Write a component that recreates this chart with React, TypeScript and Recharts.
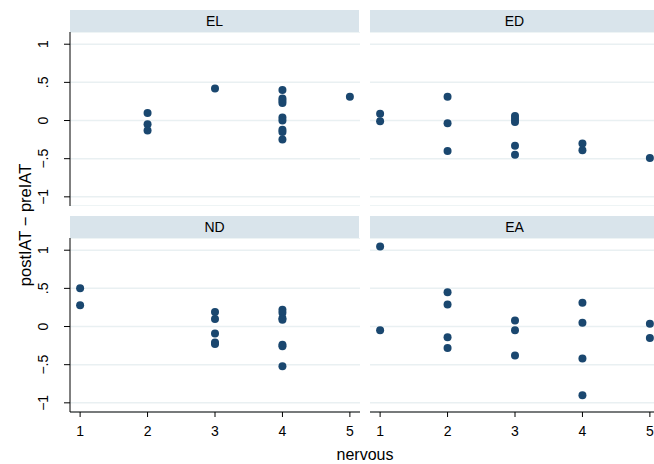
import { ScatterChart, Scatter, XAxis, YAxis, CartesianGrid } from 'recharts'

// nervous (x) and postIAT - preIAT (y), one pair of arrays per group
const elX = [2, 2, 2, 3, 4, 4, 4, 4, 4, 4, 4, 4, 4, 5]
const elY = [0.1, -0.05, -0.13, 0.42, 0.4, 0.29, 0.26, 0.23, 0.04, 0.0, -0.12, -0.15, -0.25, 0.31]

const edX = [1, 1, 2, 2, 2, 3, 3, 3, 3, 3, 4, 4, 5]
const edY = [0.09, -0.01, 0.31, -0.035, -0.4, 0.06, 0.02, -0.02, -0.33, -0.45, -0.3, -0.39, -0.49]

const ndX = [1, 1, 3, 3, 3, 3, 3, 4, 4, 4, 4, 4, 4, 4]
const ndY = [0.5, 0.28, 0.19, 0.1, -0.09, -0.21, -0.23, 0.22, 0.18, 0.11, 0.09, -0.24, -0.26, -0.52]

const eaX = [1, 1, 2, 2, 2, 2, 3, 3, 3, 4, 4, 4, 4, 5, 5]
const eaY = [1.05, -0.05, 0.45, 0.29, -0.14, -0.28, 0.08, -0.05, -0.38, 0.31, 0.05, -0.42, -0.9, 0.035, -0.15]

const xTicks = [1, 2, 3, 4, 5]
const yTicks = [-1, -0.5, 0, 0.5, 1]
const yLabels = ['\u22121', '\u2212.5', '0', '.5', '1']

const xDomain: [number, number] = [0.85, 5.15]
const yDomain: [number, number] = [-1.12, 1.16]

const NAVY = '#1a476f'
const FONT = '"Liberation Sans", Arial, sans-serif'

const toPoints = (xs: number[], ys: number[]) => xs.map((x, i) => ({ x, y: ys[i] }))

function YTick({ x, y, payload }: any) {
  const idx = yTicks.indexOf(payload.value)
  const bx = x - 14
  return (
    <text
      x={bx}
      y={y}
      transform={`rotate(-90, ${bx}, ${y})`}
      textAnchor="middle"
      fontSize={14}
      fontFamily={FONT}
      fill="#000"
    >
      {yLabels[idx]}
    </text>
  )
}

function Dot(p: any) {
  if (p.cx == null) return null
  return <circle cx={p.cx} cy={p.cy} r={4} fill={NAVY} />
}

type PanelProps = {
  title: string
  xs: number[]
  ys: number[]
  left: number
  top: number
  showY: boolean
  showX: boolean
}

function Panel({ title, xs, ys, left, top, showY, showX }: PanelProps) {
  const axisW = showY ? 70 : 0
  const plotW = 290
  const plotH = 174
  const axisH = showX ? 34 : 0
  return (
    <div style={{ position: 'absolute', left: left - axisW, top }}>
      <div
        style={{
          position: 'absolute',
          left: axisW,
          top: 0,
          width: 289,
          height: 22,
          background: '#d9e4eb',
          textAlign: 'center',
          lineHeight: '22px',
          fontSize: 14,
          fontFamily: FONT,
          color: '#000',
        }}
      >
        {title}
      </div>
      <div style={{ position: 'absolute', left: 0, top: 22 }}>
        <ScatterChart
          width={axisW + plotW}
          height={plotH + axisH}
          margin={{ top: 0, right: 0, bottom: 0, left: 0 }}
        >
          <CartesianGrid horizontal vertical={false} stroke="#e9f0f2" strokeWidth={1.5} />
          <XAxis
            type="number"
            dataKey="x"
            domain={xDomain}
            ticks={xTicks}
            allowDataOverflow
            hide={!showX}
            height={axisH}
            axisLine={{ stroke: '#000' }}
            tickLine={{ stroke: '#000' }}
            tickSize={5}
            tickMargin={9}
            tick={{ fontSize: 14, fill: '#000', fontFamily: FONT }}
          />
          <YAxis
            type="number"
            dataKey="y"
            domain={yDomain}
            ticks={yTicks}
            allowDataOverflow
            hide={!showY}
            width={axisW}
            axisLine={{ stroke: '#000' }}
            tickLine={{ stroke: '#000' }}
            tickSize={6}
            tick={<YTick />}
          />
          <Scatter data={toPoints(xs, ys)} shape={<Dot />} isAnimationActive={false} />
        </ScatterChart>
      </div>
    </div>
  )
}

export default function App() {
  return (
    <div
      style={{
        position: 'absolute',
        left: 0,
        top: 0,
        width: 654,
        height: 464,
        overflow: 'hidden',
        background: '#fff',
        fontFamily: FONT,
      }}
    >
      <Panel title="EL" xs={elX} ys={elY} left={70} top={10} showY showX={false} />
      <Panel title="ED" xs={edX} ys={edY} left={370} top={10} showY={false} showX={false} />
      <Panel title="ND" xs={ndX} ys={ndY} left={70} top={216} showY showX />
      <Panel title="EA" xs={eaX} ys={eaY} left={370} top={216} showY={false} showX />
      <div
        style={{
          position: 'absolute',
          left: 25,
          top: 225,
          transform: 'translate(-50%, -50%) rotate(-90deg)',
          whiteSpace: 'nowrap',
          fontSize: 16.5,
        }}
      >
        postIAT − preIAT
      </div>
      <div
        style={{
          position: 'absolute',
          left: 365,
          top: 455,
          transform: 'translate(-50%, -50%)',
          whiteSpace: 'nowrap',
          fontSize: 16,
        }}
      >
        nervous
      </div>
    </div>
  )
}
